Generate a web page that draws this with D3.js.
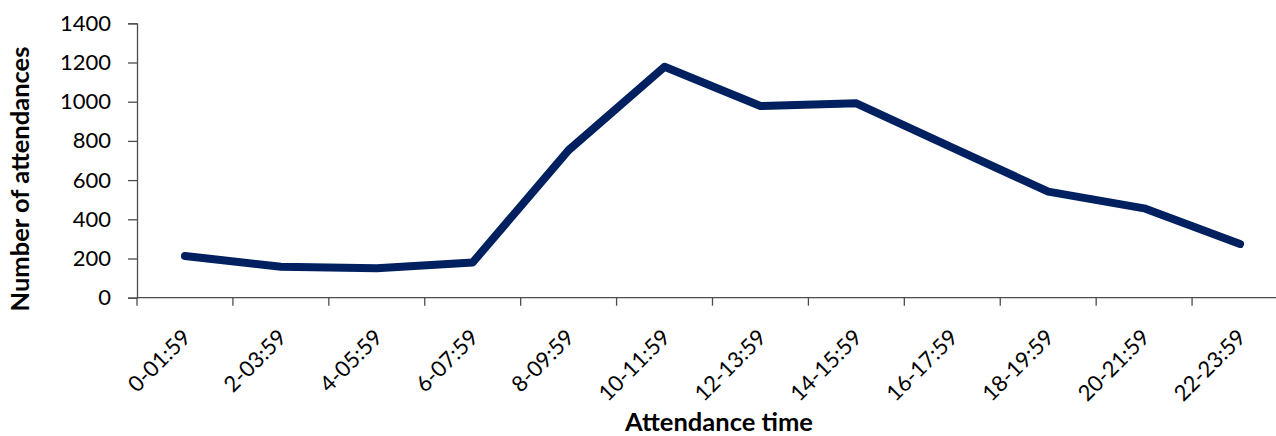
<!DOCTYPE html>
<html>
<head>
<meta charset="utf-8">
<script src="https://cdn.jsdelivr.net/npm/d3@7"></script>
<style>
  html, body { margin: 0; padding: 0; background: #fff; }
  svg { display: block; font-family: Lato, "Open Sans", sans-serif; }
</style>
</head>
<body>
<svg id="chart" width="1276" height="436"></svg>
<script>
// Attendances by two-hour time band
const timeBands = ["0-01:59", "2-03:59", "4-05:59", "6-07:59", "8-09:59", "10-11:59",
                   "12-13:59", "14-15:59", "16-17:59", "18-19:59", "20-21:59", "22-23:59"];
const attendances = [213, 158, 150, 180, 753, 1178, 978, 992, 766, 541, 456, 274];
const yTicks = [0, 200, 400, 600, 800, 1000, 1200, 1400];

const svg = d3.select("#chart");
const plotLeft = 137, plotRight = 1288, plotTop = 23.3, plotBottom = 297.7;

const x = d3.scaleBand().domain(timeBands).range([plotLeft, plotRight]).padding(0);
const y = d3.scaleLinear().domain([0, 1400]).range([plotBottom, plotTop]);

const axisColor = "#4d4d4d";

// Y axis
const yAxis = svg.append("g")
  .attr("transform", `translate(${plotLeft},0)`)
  .call(d3.axisLeft(y).tickValues(yTicks).tickSize(9).tickPadding(17).tickFormat(d3.format("d")));
yAxis.select(".domain").attr("stroke", axisColor).attr("stroke-width", 1.3);
yAxis.selectAll(".tick line").attr("stroke", axisColor).attr("stroke-width", 1.3);
yAxis.selectAll(".tick text").attr("fill", "#000").style("font-size", "22px").style("font-family", "Lato, sans-serif");

// X axis: ticks on band boundaries
const boundaries = timeBands.map(d => x(d)).concat([x(timeBands[timeBands.length - 1]) + x.bandwidth()]);
const xAxisG = svg.append("g").attr("transform", `translate(0,${plotBottom})`);
xAxisG.append("line")
  .attr("x1", plotLeft).attr("x2", plotRight).attr("y1", 0).attr("y2", 0)
  .attr("stroke", axisColor).attr("stroke-width", 1.3);
xAxisG.selectAll("line.tick")
  .data(boundaries)
  .join("line")
  .attr("class", "tick")
  .attr("x1", d => d).attr("x2", d => d)
  .attr("y1", 0).attr("y2", 8)
  .attr("stroke", axisColor).attr("stroke-width", 1.3);
xAxisG.selectAll("text.label")
  .data(timeBands)
  .join("text")
  .attr("class", "label")
  .attr("text-anchor", "end")
  .attr("transform", d => `translate(${x(d) + x.bandwidth() / 2 + 7},${41}) rotate(-45)`)
  .style("font-size", "22px")
  .attr("fill", "#000")
  .text(d => d);

// Axis titles
svg.append("text")
  .attr("x", 719)
  .attr("y", 431)
  .attr("text-anchor", "middle")
  .style("font-size", "25.5px")
  .style("font-weight", "bold")
  .text("Attendance time");

svg.append("text")
  .attr("transform", `translate(28.5,179) rotate(-90)`)
  .attr("text-anchor", "middle")
  .style("font-size", "25.5px")
  .style("font-weight", "bold")
  .text("Number of attendances");

// Series line
const line = d3.line()
  .x((d, i) => x(timeBands[i]) + x.bandwidth() / 2)
  .y(d => y(d));

svg.append("path")
  .datum(attendances)
  .attr("d", line)
  .attr("fill", "none")
  .attr("stroke", "#002060")
  .attr("stroke-width", 8)
  .attr("stroke-linejoin", "round")
  .attr("stroke-linecap", "round");
</script>
</body>
</html>
